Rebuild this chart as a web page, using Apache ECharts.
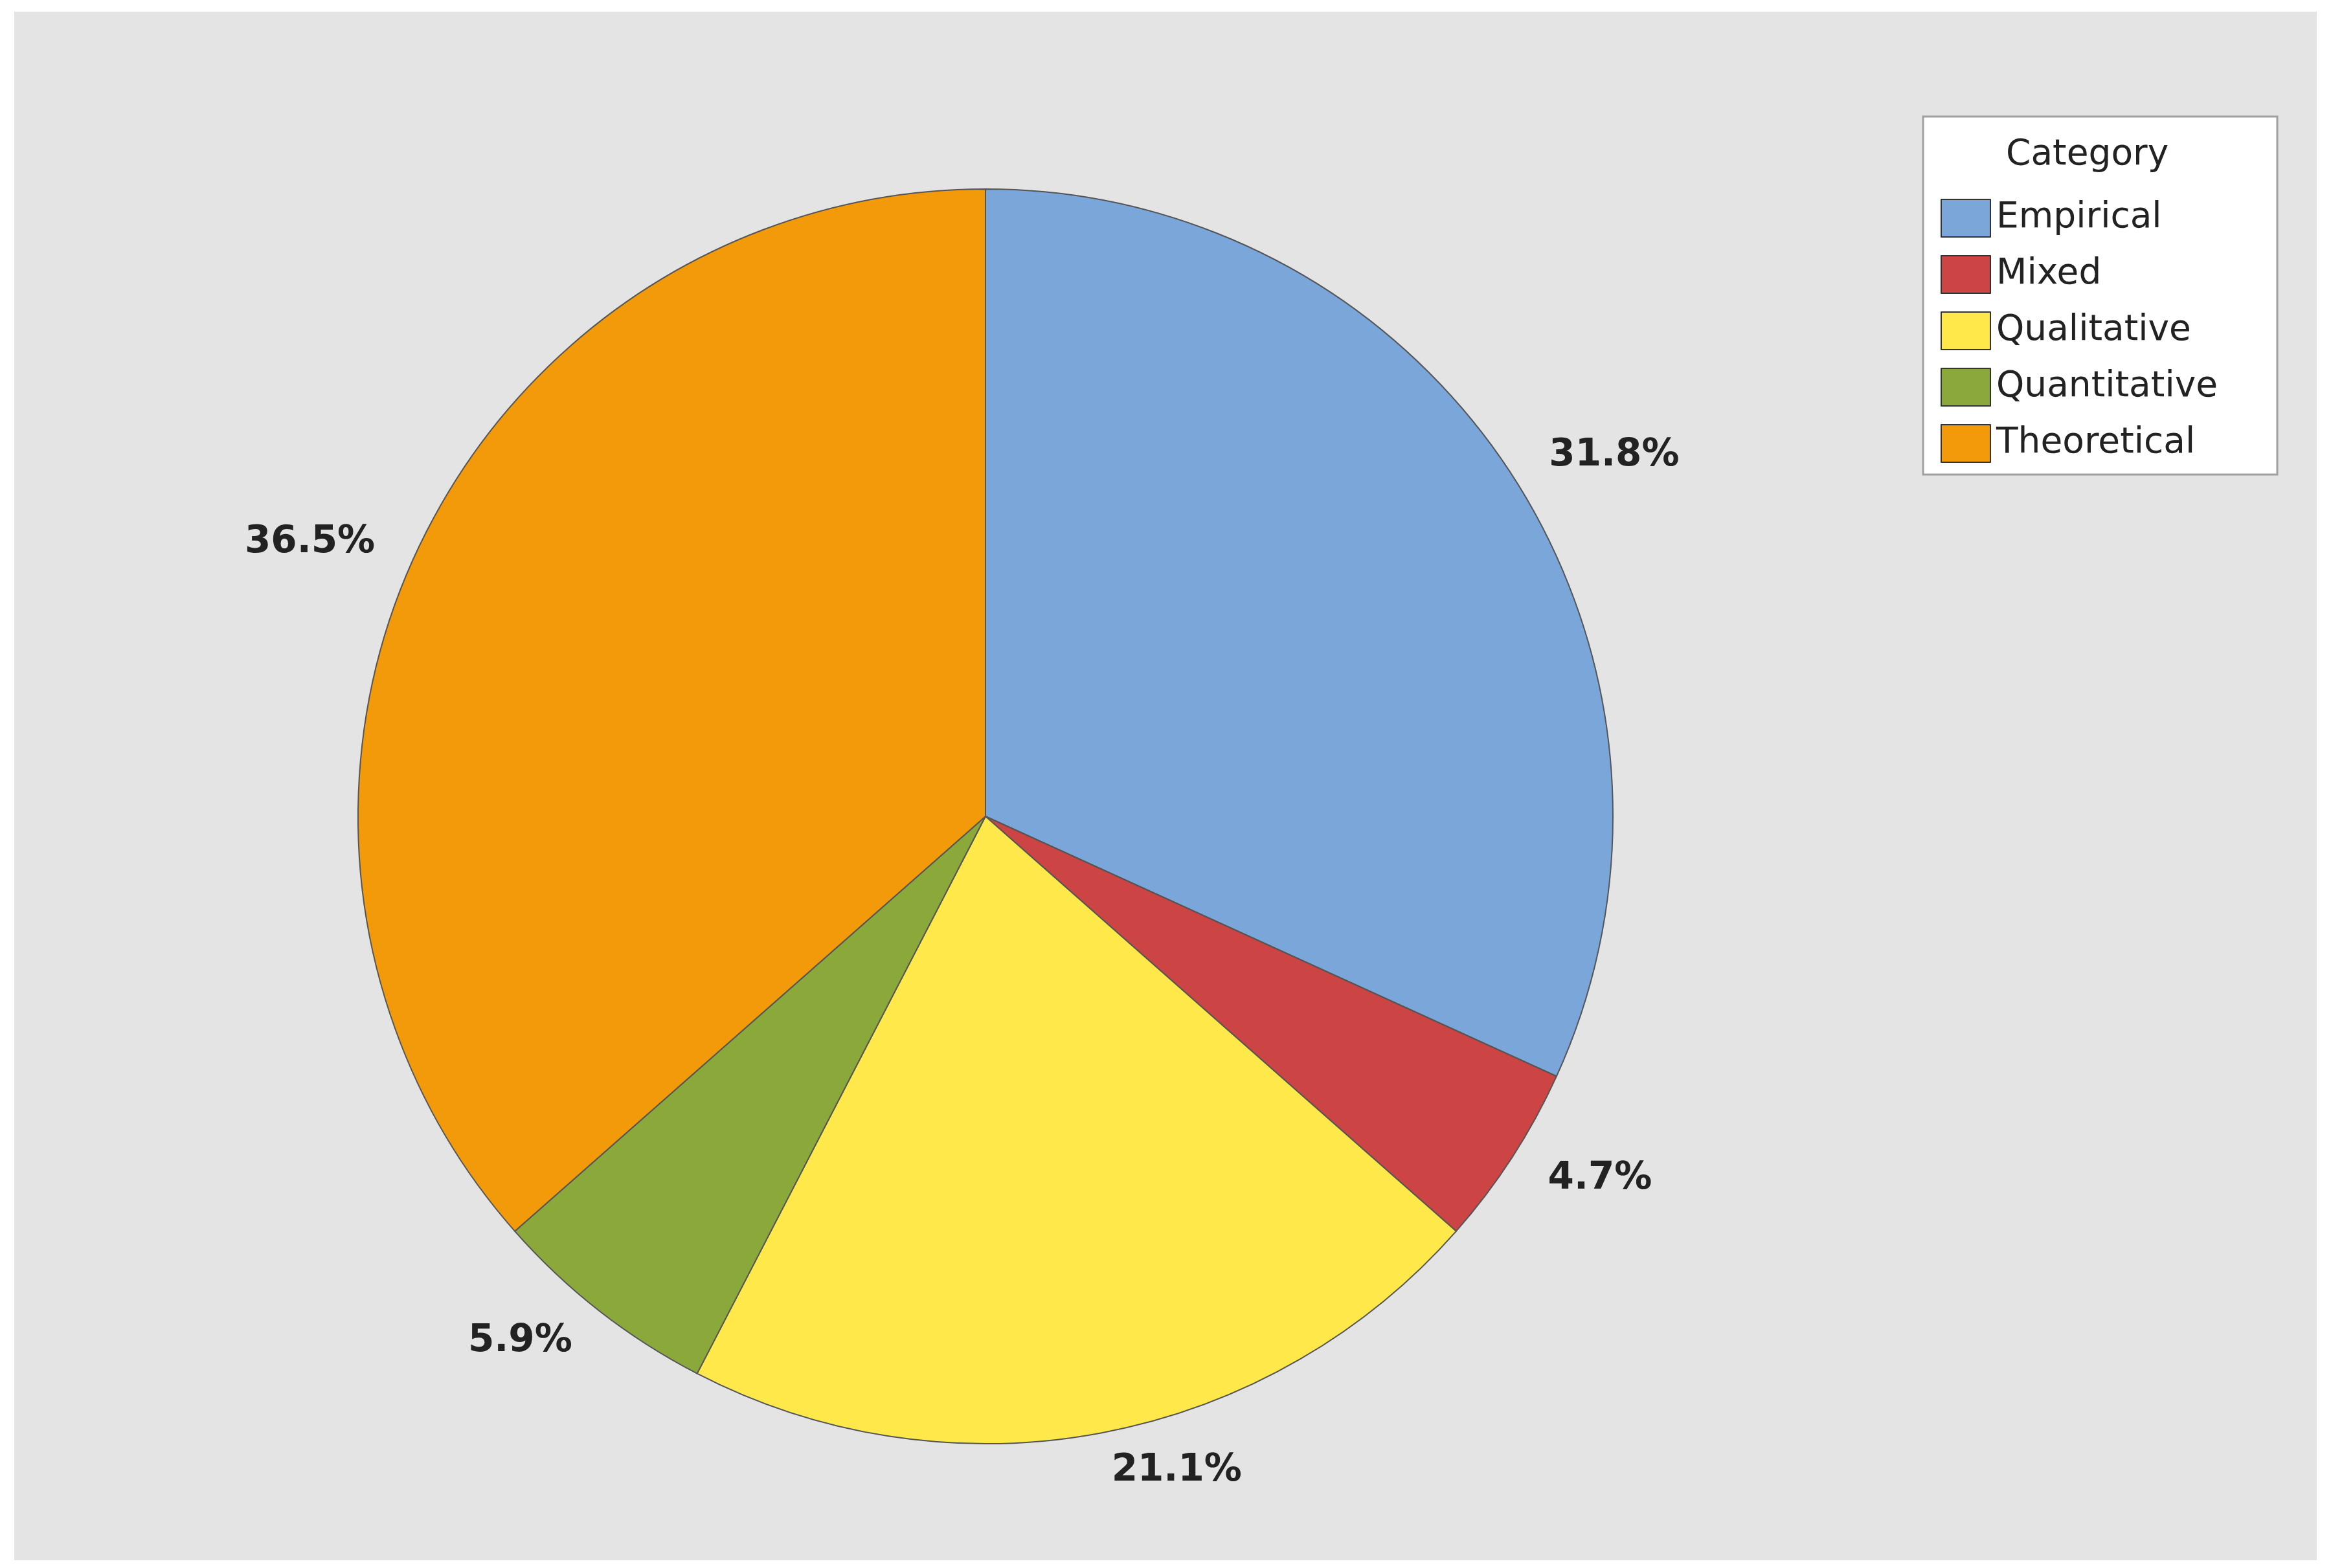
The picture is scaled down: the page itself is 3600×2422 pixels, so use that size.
<!DOCTYPE html>
<html>
<head>
<meta charset="utf-8">
<title>Category pie</title>
<script src="https://cdn.jsdelivr.net/npm/echarts@6/dist/echarts.min.js"></script>
<style>
  html, body { margin: 0; padding: 0; background: #ffffff; }
  #chart { width: 3600px; height: 2422px; }
</style>
</head>
<body>
<div id="chart"></div>
<script>
// categories and shares (%)
var categories = ['Empirical', 'Mixed', 'Qualitative', 'Quantitative', 'Theoretical'];
var shares = [31.8, 4.7, 21.1, 5.9, 36.5];
var colors = ['#7BA6DA', '#CC4444', '#FFE94A', '#8BA83A', '#F39A0B'];

var pieData = categories.map(function (c, i) {
  return { name: c, value: shares[i], itemStyle: { color: colors[i] } };
});

var chart = echarts.init(document.getElementById('chart'));
chart.setOption({
  backgroundColor: '#ffffff',
  animation: false,
  graphic: [
    // grey panel
    { type: 'rect', z: -10, shape: { x: 22, y: 18, width: 3556, height: 2392 }, style: { fill: '#E4E4E4' } },
    // legend box
    { type: 'rect', z: 0, shape: { x: 2970, y: 180, width: 547, height: 553 }, style: { fill: '#ffffff', stroke: '#A0A0A0', lineWidth: 3 } },
    { type: 'text', z: 1, left: 3098, top: 212, style: { text: 'Category', font: '55px "DejaVu Sans"', fill: '#222222' } }
  ],
  legend: {
    orient: 'vertical',
    left: 2992,
    top: 302,
    itemWidth: 76,
    itemHeight: 58,
    itemGap: 27,
    icon: 'rect',
    itemStyle: { borderColor: '#333333', borderWidth: 2 },
    textStyle: { fontSize: 55, color: '#222222', fontFamily: 'DejaVu Sans', padding: [0, 0, 0, 4] },
    data: categories
  },
  series: [{
    type: 'pie',
    center: [1522, 1261],
    radius: 969,
    startAngle: 90,
    clockwise: true,
    data: pieData,
    itemStyle: { borderColor: '#555555', borderWidth: 2 },
    label: {
      show: true,
      position: 'outside',
      formatter: function (p) { return p.value.toFixed(1) + '%'; },
      fontSize: 58,
      fontWeight: 'bold',
      color: '#222222',
      fontFamily: 'DejaVu Sans'
    },
    labelLine: { show: false, length: 60, length2: 0 },
    emphasis: { disabled: true }
  }]
});
</script>
</body>
</html>
